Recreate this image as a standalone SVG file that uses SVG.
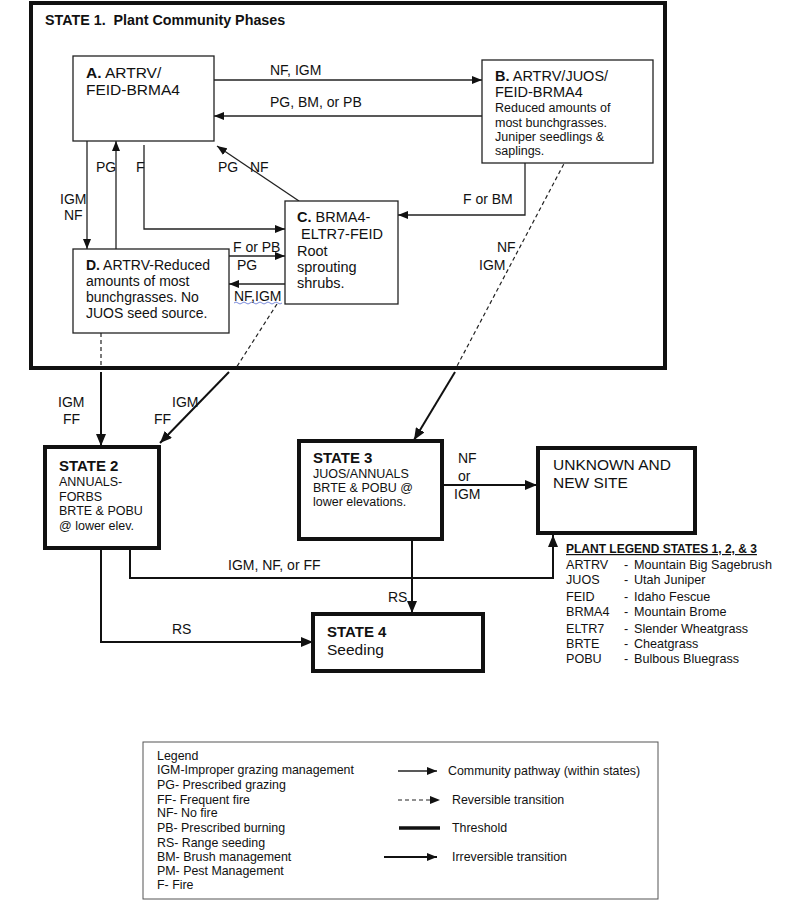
<svg xmlns="http://www.w3.org/2000/svg" width="800" height="909" viewBox="0 0 800 909">
<defs>
<marker id="ah" markerUnits="userSpaceOnUse" markerWidth="10" markerHeight="8" refX="10" refY="4" orient="auto"><path d="M0,0 L10,4 L0,8 z" fill="#111"/></marker>
<marker id="ahb" markerUnits="userSpaceOnUse" markerWidth="12" markerHeight="10" refX="12" refY="5" orient="auto"><path d="M0,0 L12,5 L0,10 z" fill="#111"/></marker>
<style>
text{font-family:"Liberation Sans",Arial,sans-serif;fill:#111}
.t14{font-size:14px}
.t145{font-size:14.5px}
.t15{font-size:15.5px}
.t12{font-size:12.5px}
.t11{font-size:12.4px}
.pl{font-size:12.6px}
.b{font-weight:bold}
.box{fill:#fff;stroke:#222;stroke-width:1.3}
.tbox{fill:#fff;stroke:#111;stroke-width:4}
.c{fill:none;stroke:#222;stroke-width:1.3}
.d{fill:none;stroke:#222;stroke-width:1.2;stroke-dasharray:4,3}
.k{fill:none;stroke:#111;stroke-width:2}
</style>
</defs>
<rect width="800" height="909" fill="#fff"/>

<g id="state1">
<rect x="31" y="3" width="634" height="365" fill="none" stroke="#111" stroke-width="4"/>
<text x="45" y="25" class="b" style="font-size:14.3px" xml:space="preserve">STATE 1.  Plant Community Phases</text>
</g>

<g id="connectors">
<path class="c" d="M214,80 H482" marker-end="url(#ah)"/>
<path class="c" d="M482,116 H214" marker-end="url(#ah)"/>
<path class="c" d="M87,137 V249" marker-end="url(#ah)"/>
<path class="c" d="M116,249 V141" marker-end="url(#ah)"/>
<path class="c" d="M144,145 V229 H285" marker-end="url(#ah)"/>
<path class="c" d="M299,201 L217,146" marker-end="url(#ah)"/>
<path class="c" d="M525,160 V215 H398" marker-end="url(#ah)"/>
<path class="c" d="M229,256 H285" marker-end="url(#ah)"/>
<path class="c" d="M285,284 H229" marker-end="url(#ah)"/>
<path class="d" d="M101,333 V368"/>
<path class="d" d="M277,304 L236,368"/>
<path class="d" d="M567,158 L456,368"/>
<path class="k" d="M101,372 V446" marker-end="url(#ahb)"/>
<path class="k" d="M229,372 L160,443" marker-end="url(#ahb)"/>
<path class="k" d="M455,372 L414,440" marker-end="url(#ahb)"/>
<path class="k" d="M442,485 H537" marker-end="url(#ahb)"/>
<path class="k" d="M412,539 V613" marker-end="url(#ahb)"/>
<path class="k" d="M130,550 V578 H553 V535" marker-end="url(#ahb)"/>
<path class="k" d="M101,550 V642 H313" marker-end="url(#ahb)"/>
<path d="M234,303 q2,-2 4,0 t4,0 t4,0 t4,0 t4,0 t4,0 t4,0 t4,0 t4,0 t4,0 t4,0 t4,0" fill="none" stroke="#5a6fd0" stroke-width="0.8"/>
<g class="t14">
<text x="270" y="75">NF, IGM</text>
<text x="270" y="107">PG, BM, or PB</text>
<text x="60" y="204">IGM</text>
<text x="64" y="220">NF</text>
<text x="96" y="172">PG</text>
<text x="136" y="172">F</text>
<text x="218" y="172">PG</text>
<text x="250" y="172">NF</text>
<text x="463" y="204">F or BM</text>
<text x="233" y="252">F or PB</text>
<text x="237" y="270">PG</text>
<text x="234" y="301">NF,IGM</text>
<text x="497" y="252">NF</text>
<text x="479" y="270">IGM</text>
<text x="58" y="407">IGM</text>
<text x="63" y="424">FF</text>
<text x="172" y="407">IGM</text>
<text x="154" y="424">FF</text>
<text x="458" y="463">NF</text>
<text x="458" y="481">or</text>
<text x="454" y="499">IGM</text>
<text x="228" y="570">IGM, NF, or FF</text>
<text x="388" y="602">RS</text>
<text x="172" y="634">RS</text>
</g>
</g>

<g id="nodeA">
<rect class="box" x="73" y="56" width="141" height="85"/>
<text x="86" y="78" class="t15"><tspan class="b">A.</tspan> ARTRV/</text>
<text x="86" y="95" class="t15">FEID-BRMA4</text>
</g>

<g id="nodeB">
<rect class="box" x="482" y="60" width="171" height="103"/>
<text x="495" y="81" class="t145"><tspan class="b">B.</tspan> ARTRV/JUOS/</text>
<text x="495" y="97" class="t145">FEID-BRMA4</text>
<text x="495" y="112" class="t12">Reduced amounts of</text>
<text x="495" y="127" class="t12">most bunchgrasses.</text>
<text x="495" y="141" class="t12">Juniper seedlings &amp;</text>
<text x="495" y="155" class="t12">saplings.</text>
</g>

<g id="nodeC">
<rect class="box" x="285" y="201" width="113" height="103"/>
<text x="297" y="222" class="t145"><tspan class="b">C.</tspan> BRMA4-</text>
<text x="301" y="239" class="t145">ELTR7-FEID</text>
<text x="297" y="256" class="t145">Root</text>
<text x="297" y="272" class="t145">sprouting</text>
<text x="297" y="288" class="t145">shrubs.</text>
</g>

<g id="nodeD">
<rect class="box" x="73" y="249" width="156" height="84"/>
<text x="86" y="270" class="t14"><tspan class="b">D.</tspan> ARTRV-Reduced</text>
<text x="86" y="286" class="t14">amounts of most</text>
<text x="86" y="302" class="t14">bunchgrasses. No</text>
<text x="86" y="318" class="t14">JUOS seed source.</text>
</g>

<g id="state2">
<rect class="tbox" x="45" y="447" width="114" height="101"/>
<text x="59" y="471" class="b" style="font-size:15px">STATE 2</text>
<text x="59" y="486" class="t12">ANNUALS-</text>
<text x="59" y="501" class="t12">FORBS</text>
<text x="59" y="515" class="t12">BRTE &amp; POBU</text>
<text x="59" y="530" class="t12">@ lower elev.</text>
</g>

<g id="state3">
<rect class="tbox" x="299" y="441" width="143" height="98"/>
<text x="313" y="463" class="b" style="font-size:15px">STATE 3</text>
<text x="313" y="478" class="t12">JUOS/ANNUALS</text>
<text x="313" y="492" class="t12">BRTE &amp; POBU @</text>
<text x="313" y="506" class="t12">lower elevations.</text>
</g>

<g id="unknown">
<rect class="tbox" x="538" y="448" width="157" height="85"/>
<text x="553" y="470" class="t15">UNKNOWN AND</text>
<text x="553" y="488" class="t15">NEW SITE</text>
</g>

<g id="state4">
<rect class="tbox" x="313" y="614" width="170" height="57"/>
<text x="327" y="637" class="b" style="font-size:15px">STATE 4</text>
<text x="327" y="655" class="t15">Seeding</text>
</g>

<g id="plantLegend" class="pl">
<text x="566" y="553" class="b" style="font-size:12px" text-decoration="underline">PLANT LEGEND STATES 1, 2, &amp; 3</text>
<text x="566" y="569">ARTRV</text><text x="624" y="569">-</text><text x="634" y="569">Mountain Big Sagebrush</text>
<text x="566" y="584">JUOS</text><text x="624" y="584">-</text><text x="634" y="584">Utah Juniper</text>
<text x="566" y="601">FEID</text><text x="624" y="601">-</text><text x="634" y="601">Idaho Fescue</text>
<text x="566" y="616">BRMA4</text><text x="624" y="616">-</text><text x="634" y="616">Mountain Brome</text>
<text x="566" y="633">ELTR7</text><text x="624" y="633">-</text><text x="634" y="633">Slender Wheatgrass</text>
<text x="566" y="648">BRTE</text><text x="624" y="648">-</text><text x="634" y="648">Cheatgrass</text>
<text x="566" y="663">POBU</text><text x="624" y="663">-</text><text x="634" y="663">Bulbous Bluegrass</text>
</g>

<g id="legend" class="t11">
<rect x="143" y="742" width="515" height="157" fill="#fff" stroke="#555" stroke-width="1"/>
<text x="157" y="760">Legend</text>
<text x="157" y="774">IGM-Improper grazing management</text>
<text x="157" y="789">PG- Prescribed grazing</text>
<text x="157" y="804">FF- Frequent fire</text>
<text x="157" y="817">NF- No fire</text>
<text x="157" y="832">PB- Prescribed burning</text>
<text x="157" y="847">RS- Range seeding</text>
<text x="157" y="861">BM- Brush management</text>
<text x="157" y="875">PM- Pest Management</text>
<text x="157" y="889">F- Fire</text>
<path class="c" d="M398,771 H437" marker-end="url(#ah)"/>
<path class="d" d="M398,800 H440" marker-end="url(#ah)"/>
<path d="M399,828 H440" stroke="#111" stroke-width="3.5"/>
<path class="k" d="M384,857 H437" marker-end="url(#ah)"/>
<text x="448" y="775">Community pathway (within states)</text>
<text x="452" y="804">Reversible transition</text>
<text x="452" y="832">Threshold</text>
<text x="452" y="861">Irreversible transition</text>
</g>
</svg>
